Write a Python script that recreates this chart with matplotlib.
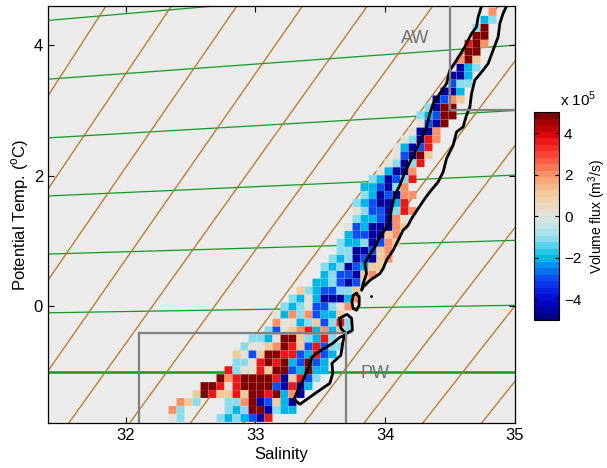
import numpy as np
import matplotlib
matplotlib.use("Agg")
import matplotlib.pyplot as plt
from matplotlib.colors import LinearSegmentedColormap
from matplotlib.patches import Rectangle

plt.rcParams['font.family'] = ['Liberation Sans', 'DejaVu Sans']
plt.rcParams['mathtext.fontset'] = 'custom'
plt.rcParams['mathtext.rm'] = 'Liberation Sans'

# ---- histogram bins (salinity / potential temperature) ----
s_first = 32.70      # left edge of column 0
ds = 0.0617
t_first = -1.04      # bottom edge of row 0
dt = 0.122

# colour codes -> volume flux in units of 1e5 m3/s
code_values = {'D': -4.4, 'b': -3.0, 'C': -2.0, 'c': -1.0, 'g': 0.2,
               't': 1.0, 'o': 2.0, 'r': 3.5, 'R': 4.7}

row_first = -6
row_start = [-6, -6, -5, -3, -2, 0, 1, 2, 2, 3, 4, 6, 7, 7, 8, 9, 10, 12, 13, 13,
             14, 15, 15, 16, 16, 17, 17, 17, 18, 18, 19, 20, 21, 22, 22, 23, 24,
             25, 25, 26, 27, 28, 29, 29, 30, 30, 31, 31, 32, 32, 33, 34]
row_codes = ["gc....cCcCbDr", "oc.....cCcRRDcCC", "otc...ccoRDbtCD",
             "tRrttrtRRrRCoD", "RRrgrRRRRbDrDC", "RorRRRRrDtrbc",
             "rcggrtRRbCRCC", "ccgrRrRCbRbC", "tgbtRRrrbCrbC", "cggtoRrtbrbcc",
             "ccCgRRtcCrc", "cbgtorCoCtc", "oggCctbcrc", "gCocobCCt",
             "cCcgbbcgo", "cCgCDDDCo", "tcCbbcct", "CCcbDbt", "CcbbDto",
             "cCcDbCtt", "cCcDbDto", "ccDDbto", "cCCcDbot", "CbbDDto",
             "gbCDDDot", "cCCbDog", "gcbbDcro", "cCbDDCr", "cCDbDoo",
             "CCbDco", "cCDbcr", "gCDDo", "gcDcr", "gbDRt", "gCDbr", "gcDro",
             "gDDo", "gbDR", "cCbRR", "cDRR", "Dbot", "DDC", "bcc", "DDC",
             "DCc", "oRt", "RR", "rRo", "RR", "cR", "Cc", "o"]

# black contour (salinity, temperature)
band_S = [34.744, 34.718, 34.705, 34.667, 34.615, 34.551, 34.499, 34.474, 34.422,
          34.371, 34.345, 34.320, 34.268, 34.217, 34.153, 34.114, 34.075, 34.050,
          34.024, 33.960, 33.921, 33.870, 33.844, 33.857, 33.831, 33.819,
          33.831, 33.883, 33.960, 33.985, 34.011, 34.062, 34.101, 34.139, 34.178,
          34.204, 34.255, 34.307, 34.345, 34.409, 34.448, 34.474, 34.525, 34.551,
          34.602, 34.628, 34.654, 34.667, 34.692, 34.756, 34.795, 34.833, 34.872,
          34.885, 34.910, 34.937]
band_T = [4.60, 4.434, 4.281, 4.179, 3.974, 3.770, 3.617, 3.413, 3.260,
          3.107, 2.953, 2.748, 2.518, 2.314, 2.058, 1.854, 1.701, 1.497,
          1.241, 1.062, 0.909, 0.756, 0.654, 0.501, 0.348, 0.245,
          0.296, 0.398, 0.501, 0.578, 0.705, 0.858, 1.011, 1.165, 1.241,
          1.344, 1.497, 1.651, 1.752, 1.905, 2.058, 2.264, 2.467, 2.671,
          2.748, 2.927, 3.054, 3.260, 3.464, 3.617, 3.720, 3.923, 4.127,
          4.333, 4.486, 4.60]
loop_S = [33.780, 33.800, 33.800, 33.780, 33.754, 33.744, 33.754, 33.780]
loop_T = [0.195, 0.143, 0.015, -0.061, -0.035, 0.066, 0.169, 0.195]
quad_S = [33.651, 33.705, 33.742, 33.748, 33.697, 33.659, 33.651]
quad_T = [-0.184, -0.123, -0.184, -0.368, -0.421, -0.337, -0.184]
loz_S = [33.690, 33.651, 33.597, 33.482, 33.435, 33.412, 33.374, 33.328, 33.297,
         33.343, 33.451, 33.574, 33.597, 33.590, 33.659, 33.674, 33.690]
loz_T = [-0.444, -0.475, -0.567, -0.705, -0.782, -0.935, -1.103, -1.287, -1.425,
         -1.502, -1.349, -1.180, -1.027, -0.874, -0.751, -0.552, -0.444]
dot_S, dot_T = 33.89, 0.153

# green reference lines: temperature at S=31.4 and at S=35
green_T_left = [4.38, 3.48, 2.58, 1.69, 0.80, -0.10]
green_T_right = [5.00, 4.00, 3.00, 2.01, 1.01, 0.015]
pw_line_T = -1.0

# brown reference lines: two points on each line (S1,T1) and (S2,T2)
brown_S1 = [31.4, 31.4, 31.4, 31.4, 31.631, 32.102, 32.572, 32.98, 33.451,
            33.914, 34.368, 34.823]
brown_T1 = [3.223, 1.793, 0.398, -0.992, -1.594, -1.594, -1.594, -1.594, -1.594,
            -1.594, -1.594, -1.594]
brown_S2 = [31.847, 32.352, 32.857, 33.363, 33.863, 34.368, 34.873, 35.32, 35.82,
            36.32, 36.82, 37.31]
brown_T2 = [4.6] * 12

# water mass boxes
pw_box = (32.1, 33.7, -0.41)   # S min, S max, T max
aw_box = (34.5, 3.0)           # S min, T min

# ---- build grid ----
i_min = min(row_start)
i_max = max(s + len(c) for s, c in zip(row_start, row_codes))
n_rows = len(row_codes)
Z = np.full((n_rows, i_max - i_min), np.nan)
for r, (st, codes) in enumerate(zip(row_start, row_codes)):
    for k, ch in enumerate(codes):
        if ch != '.':
            Z[r, st + k - i_min] = code_values[ch] * 1e5
S_edges = s_first + ds * np.arange(i_min, i_max + 1)
T_edges = t_first + dt * np.arange(row_first, row_first + n_rows + 1)

cmap = LinearSegmentedColormap.from_list('flux', [
    (0.00, (0.00, 0.00, 0.50)),
    (0.08, (0.00, 0.02, 0.80)),
    (0.18, (0.05, 0.25, 0.95)),
    (0.30, (0.00, 0.75, 0.90)),
    (0.40, (0.62, 0.88, 0.93)),
    (0.50, (0.89, 0.89, 0.87)),
    (0.60, (0.94, 0.82, 0.64)),
    (0.70, (0.98, 0.60, 0.42)),
    (0.82, (0.98, 0.22, 0.18)),
    (0.90, (0.88, 0.02, 0.04)),
    (1.00, (0.50, 0.00, 0.00))], N=32)

fig = plt.figure(figsize=(6.07, 4.68), dpi=100)
ax = fig.add_axes([0.079, 0.096, 0.769, 0.891])
ax.set_facecolor('#ebebeb')

s_line = np.array([31.4, 35.0])
for tl, tr in zip(green_T_left, green_T_right):
    ax.plot(s_line, [tl, tr], color='#129a26', lw=0.9, zorder=1)
ax.axhline(pw_line_T, color='#129a26', lw=1.8, zorder=1)

t_ext = np.array([-3.0, 6.0])
for s1, t1, s2, t2 in zip(brown_S1, brown_T1, brown_S2, brown_T2):
    slope = (t2 - t1) / (s2 - s1)
    ax.plot(s1 + (t_ext - t1) / slope, t_ext, color='#b8741e', lw=0.9, zorder=1)

mz = np.ma.masked_invalid(Z)
pc = ax.pcolor(S_edges, T_edges, mz, cmap=cmap, vmin=-5e5, vmax=5e5,
               edgecolors=(1, 1, 1, 0.18), linewidth=0.3, zorder=2)

ax.plot(band_S, band_T, color='k', lw=2.0, zorder=4)
ax.plot(loop_S, loop_T, color='k', lw=2.0, zorder=4)
ax.plot(quad_S, quad_T, color='k', lw=2.0, zorder=4)
ax.plot(loz_S, loz_T, color='k', lw=2.0, zorder=4)
ax.plot(dot_S, dot_T, 'k.', ms=2, zorder=4)

ax.add_patch(Rectangle((pw_box[0], -3), pw_box[1] - pw_box[0], pw_box[2] + 3,
                       fill=False, ec='#808080', lw=1.6, zorder=5))
ax.add_patch(Rectangle((aw_box[0], aw_box[1]), 1.0, 3.0, fill=False,
                       ec='#808080', lw=1.6, zorder=5))
ax.text(34.23, 4.11, 'AW', color='#707070', fontsize=13, ha='center', va='center')
ax.text(33.92, -1.03, 'PW', color='#707070', fontsize=13, ha='center', va='center')

ax.set_xlim(31.4, 35.0)
ax.set_ylim(-1.79, 4.6)
ax.set_xticks([32, 33, 34, 35])
ax.set_yticks([0, 2, 4])
ax.tick_params(direction='in', length=4, top=True, right=True, labelsize=12, width=0.8)
for sp in ax.spines.values():
    sp.set_linewidth(0.9)
ax.set_xlabel('Salinity', fontsize=12, labelpad=3)
ax.set_ylabel('Potential Temp. ($^{\\rm o}$C)', fontsize=12, labelpad=2)

cax = fig.add_axes([0.880, 0.316, 0.041, 0.444])
cb = fig.colorbar(pc, cax=cax, ticks=[-4e5, -2e5, 0, 2e5, 4e5])
cb.set_ticklabels(['\u22124', '\u22122', '0', '2', '4'])
cax.tick_params(direction='in', length=3, labelsize=11, left=True, right=True, width=0.8)
cb.outline.set_linewidth(0.8)
cb.set_label('Volume flux (m$^3$/s)', fontsize=10, labelpad=4)
fig.text(0.952, 0.787, 'x 10$^5$', fontsize=11, ha='center', va='center')

fig.savefig('out.png', dpi=100)
